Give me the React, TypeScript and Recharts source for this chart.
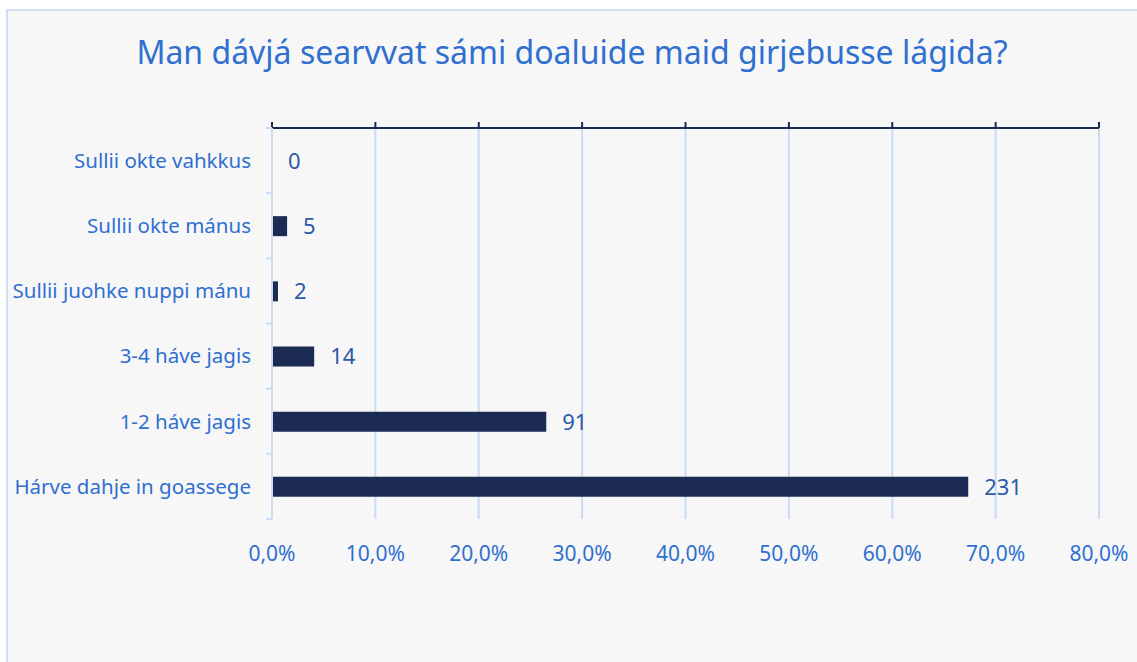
import React from "react";
import { BarChart, Bar, XAxis, YAxis, CartesianGrid, LabelList } from "recharts";

const categories = [
  "Sullii okte vahkkus",
  "Sullii okte mánus",
  "Sullii juohke nuppi mánu",
  "3-4 háve jagis",
  "1-2 háve jagis",
  "Hárve dahje in goassege",
];
const percents = [0, 1.46, 0.58, 4.08, 26.53, 67.35];
const counts = [0, 5, 2, 14, 91, 231];
const xTicks = [0, 10, 20, 30, 40, 50, 60, 70, 80];
const title = "Man dávjá searvvat sámi doaluide maid girjebusse lágida?";

const data = categories.map((c, i) => ({ name: c, pct: percents[i], count: counts[i] }));

const W = 1137;
const H = 662;
const MARGIN = { top: 127, right: 38, bottom: 143, left: 271 };
const X_AXIS_H = 1;
const Y_AXIS_W = 1;
const PLOT_H = H - MARGIN.top - X_AXIS_H - MARGIN.bottom;
const BAND = PLOT_H / categories.length;

const FONT = "'Noto Sans', sans-serif";
const BLUE = "#2f6fd0";
const NAVY = "#1b2b54";
const GRID = "#cadcf4";

const CountLabel = (props: any) => {
  const { x, y, width, height, value } = props;
  return (
    <text x={Number(x) + Number(width || 0) + 16} y={Number(y) + Number(height) / 2} dy="0.36em" fill="#2b5aa6" fontSize={22} fontFamily={FONT} textAnchor="start">
      {value}
    </text>
  );
};

const CategoryTick = (props: any) => {
  const { x, y, payload, index } = props;
  const half = BAND / 2;
  const ax = Number(x) + 21;
  const isLast = index === categories.length - 1;
  return (
    <g>
      <line x1={ax - 6} x2={ax} y1={y - half} y2={y - half} stroke={GRID} strokeWidth={2} />
      {isLast && <line x1={ax - 6} x2={ax} y1={y + half} y2={y + half} stroke={GRID} strokeWidth={2} />}
      <text x={Number(x)} y={Number(y)} dy="0.36em" fill={BLUE} fontSize={20.5} fontFamily={FONT} textAnchor="end">
        {payload.value}
      </text>
    </g>
  );
};

const PercentTick = (props: any) => {
  const { x, y, payload } = props;
  const labelY = Number(y) + 6 + PLOT_H + 34;
  return (
    <text x={Number(x)} y={labelY} dy="0.36em" fill={BLUE} fontSize={21} fontFamily={FONT} textAnchor="middle">
      {Number(payload.value).toFixed(1).replace(".", ",") + "%"}
    </text>
  );
};

export default function App() {
  return (
    <div style={{ position: "absolute", left: 0, top: 0, width: W, height: H, background: "#ffffff", overflow: "hidden", fontFamily: FONT }}>
      <div style={{ position: "absolute", left: 6, top: 9, width: 1140, height: 660, background: "#f7f7f7", border: "2px solid #cfe0f6", boxSizing: "border-box" }} />
      <div style={{ position: "absolute", left: 0, top: 30, width: 1144, textAlign: "center", color: BLUE, fontSize: 32, lineHeight: "44px", whiteSpace: "nowrap" }}>
        {title}
      </div>
      <div style={{ position: "absolute", left: 0, top: 0 }}>
        <BarChart width={W} height={H} data={data} layout="vertical" margin={MARGIN} barSize={20}>
          <CartesianGrid horizontal={false} vertical={true} stroke={GRID} strokeWidth={2} />
          <XAxis
            orientation="top"
            type="number"
            domain={[0, 80]}
            ticks={xTicks}
            interval={0}
            height={X_AXIS_H}
            axisLine={{ stroke: NAVY, strokeWidth: 2 }}
            tickLine={{ stroke: NAVY, strokeWidth: 2 }}
            tickSize={6}
            tickMargin={0}
            tick={PercentTick}
          />
          <YAxis
            type="category"
            dataKey="name"
            interval={0}
            width={Y_AXIS_W}
            axisLine={{ stroke: GRID, strokeWidth: 2 }}
            tickLine={false}
            tickSize={0}
            tickMargin={21}
            tick={CategoryTick}
          />
          <Bar dataKey="pct" fill={NAVY} minPointSize={0.01} isAnimationActive={false}>
            <LabelList dataKey="count" content={CountLabel} />
          </Bar>
        </BarChart>
      </div>
    </div>
  );
}
